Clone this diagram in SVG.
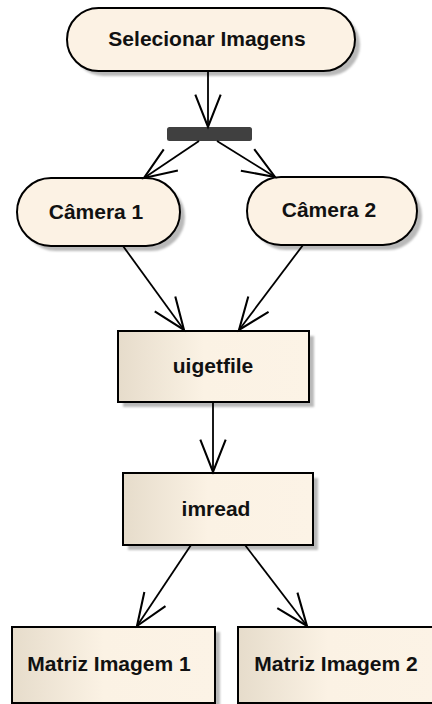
<svg xmlns="http://www.w3.org/2000/svg" width="432" height="704" viewBox="0 0 432 704">
  <defs>
    <linearGradient id="actGrad" x1="0" y1="0" x2="1" y2="0">
      <stop offset="0" stop-color="#e6dccb"/>
      <stop offset="0.45" stop-color="#fbf2e4"/>
      <stop offset="1" stop-color="#fcf3e6"/>
    </linearGradient>
    <filter id="soft" x="-10%" y="-10%" width="120%" height="130%">
      <feGaussianBlur stdDeviation="1.2"/>
    </filter>
    <marker id="open" markerUnits="userSpaceOnUse" markerWidth="40" markerHeight="30" viewBox="-30 -13 32 26" refX="0" refY="0" orient="auto">
      <path d="M-28,-11 L0,0 L-28,11" fill="none" stroke="#000" stroke-width="1.8" stroke-linejoin="miter"/>
    </marker>
  </defs>
  <style>
    .shadow { fill: #b9b9b9; filter: url(#soft); }
    .state { fill: #fcf2e4; stroke: #000; stroke-width: 2; }
    .act { fill: url(#actGrad); stroke: #000; stroke-width: 2; }
    .label { font-family: "Liberation Sans", Arial, sans-serif; font-weight: bold; font-size: 21px; fill: #111; text-anchor: middle; }
    .edge { fill: none; stroke: #000; stroke-width: 1.8; marker-end: url(#open); }
  </style>
  <rect width="432" height="704" fill="#fff"/>

  <g id="selecionar">
    <rect class="shadow" x="72" y="13" width="288" height="63" rx="31.5"/>
    <rect class="state" x="67" y="8" width="288" height="63" rx="31.5"/>
    <text class="label" x="207" y="46">Selecionar Imagens</text>
  </g>

  <g id="fork">
    <rect x="167" y="127" width="85" height="14" rx="2.5" fill="#404040"/>
  </g>

  <g id="camera1">
    <rect class="shadow" x="22" y="183" width="163" height="68" rx="34"/>
    <rect class="state" x="17" y="178" width="163" height="68" rx="34"/>
    <text class="label" x="96" y="219">Câmera 1</text>
  </g>

  <g id="camera2">
    <rect class="shadow" x="252" y="182" width="170" height="68" rx="34"/>
    <rect class="state" x="247" y="177" width="170" height="68" rx="34"/>
    <text class="label" x="329" y="217">Câmera 2</text>
  </g>

  <g id="uigetfile">
    <rect class="shadow" x="123" y="336" width="191" height="71"/>
    <rect class="act" x="118" y="331" width="191" height="71"/>
    <text class="label" x="213" y="373">uigetfile</text>
  </g>

  <g id="imread">
    <rect class="shadow" x="128" y="478" width="190" height="72"/>
    <rect class="act" x="123" y="473" width="190" height="72"/>
    <text class="label" x="216" y="516">imread</text>
  </g>

  <g id="matriz1">
    <rect class="shadow" x="17" y="632" width="203" height="76"/>
    <rect class="act" x="12" y="627" width="203" height="76"/>
    <text class="label" x="109" y="671">Matriz Imagem 1</text>
  </g>

  <g id="matriz2">
    <rect class="shadow" x="243" y="632" width="200" height="76"/>
    <rect class="act" x="238" y="627" width="200" height="76"/>
    <text class="label" x="336" y="671">Matriz Imagem 2</text>
  </g>

  <g id="connectors">
    <line class="edge" x1="208" y1="71" x2="208" y2="127"/>
    <line class="edge" x1="199" y1="141" x2="144" y2="178"/>
    <line class="edge" x1="217" y1="141" x2="275" y2="177"/>
    <line class="edge" x1="123" y1="246" x2="184" y2="330"/>
    <line class="edge" x1="303" y1="245" x2="239" y2="330"/>
    <line class="edge" x1="213" y1="402" x2="213" y2="472"/>
    <line class="edge" x1="191" y1="545" x2="137" y2="626"/>
    <line class="edge" x1="245" y1="545" x2="307" y2="626"/>
  </g>
</svg>
